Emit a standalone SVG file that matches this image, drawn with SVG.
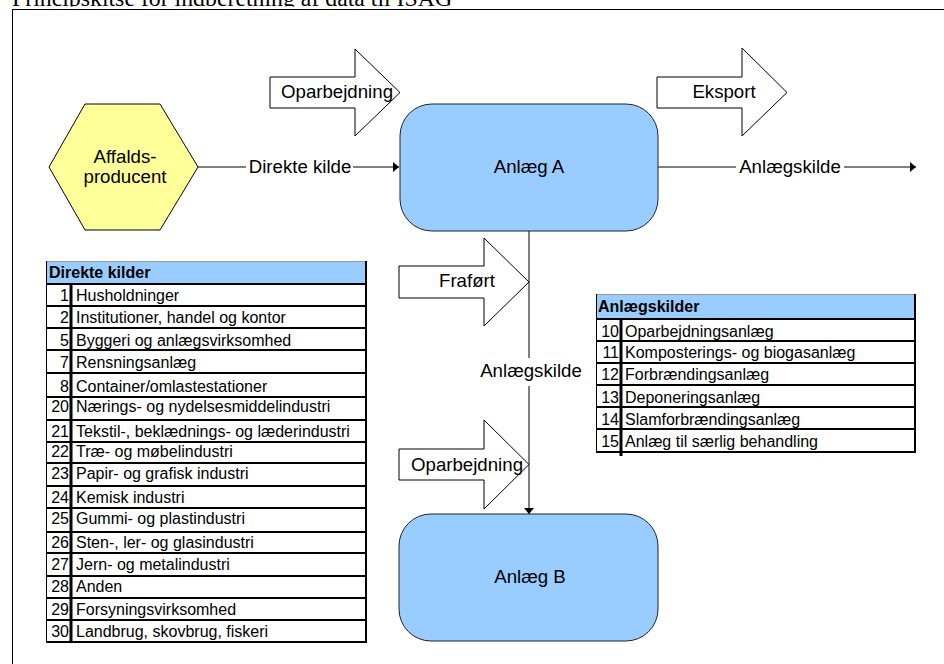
<svg xmlns="http://www.w3.org/2000/svg" width="944" height="664" viewBox="0 0 944 664">
<style>
.lbl{font-family:"Liberation Sans",Arial,sans-serif;font-size:18.67px;fill:#000}
.tt{font-family:"Liberation Sans",Arial,sans-serif;font-size:16px;fill:#000}
.th{font-family:"Liberation Sans",Arial,sans-serif;font-size:16px;font-weight:bold;fill:#000}
.num{text-anchor:end}
.mid{text-anchor:middle}
.blk{fill:#fff;stroke:#000;stroke-width:1}
.plant{fill:#99CCFF;stroke:#222;stroke-width:1}
.con{fill:none;stroke:#000;stroke-width:1}
.rl{stroke:#000;stroke-width:2}
.thin{stroke:#000;stroke-width:1}
.hdr{fill:#99CCFF}
</style>
<defs>
<marker id="ah" markerUnits="userSpaceOnUse" markerWidth="8" markerHeight="12" refX="6" refY="5" orient="auto">
<path d="M0,0 L6,5 L0,10 z" fill="#000"/>
</marker>
<clipPath id="tclip"><rect x="0" y="0" width="944" height="6.5"/></clipPath>
</defs>
<rect width="944" height="664" fill="#fff"/>
<text x="12" y="6" clip-path="url(#tclip)" font-family="'Liberation Serif','Times New Roman',serif" font-size="23.8">Principskitse for indberetning af data til ISAG</text>
<rect x="12.5" y="9.5" width="960" height="700" fill="none" stroke="#000" stroke-width="1"/>

<g id="connectors">
<path class="con" d="M198,167 H246 M353,167 H399" marker-end="url(#ah)"/>
<text class="lbl mid" x="300" y="173">Direkte kilde</text>
<path class="con" d="M658,167 H736 M844,167 H916" marker-end="url(#ah)"/>
<text class="lbl mid" x="790" y="173">Anlægskilde</text>
<path class="con" d="M529,231 V358 M529,386 V514" marker-end="url(#ah)" stroke="#333"/>
<text class="lbl mid" x="531" y="377">Anlægskilde</text>
</g>

<g id="node-affaldsproducent">
<polygon points="49,167 85,104 160,104 198,167 160,230 85,230" fill="#FFFF99" stroke="#000" stroke-width="1"/>
<text class="lbl mid" x="125" y="163">Affalds-</text>
<text class="lbl mid" x="125" y="183">producent</text>
</g>

<g id="node-anlaeg-a">
<rect class="plant" x="400" y="104" width="258" height="127" rx="32" ry="32"/>
<text class="lbl mid" x="529" y="173">Anlæg A</text>
</g>

<g id="node-anlaeg-b">
<rect class="plant" x="399" y="514" width="259" height="127" rx="32" ry="32"/>
<text class="lbl mid" x="530" y="583">Anlæg B</text>
</g>

<g id="arrow-oparbejdning-top">
<polygon class="blk" points="270,77 355,77 355,49 400,92.5 355,136 355,108 270,108"/>
<text class="lbl" x="281" y="98">Oparbejdning</text>
</g>

<g id="arrow-eksport">
<polygon class="blk" points="657,77 742,77 742,48 787,92.5 742,136 742,108 657,108"/>
<text class="lbl mid" x="724" y="98">Eksport</text>
</g>

<g id="arrow-frafoert">
<polygon class="blk" points="399,266 484,266 484,238 529,282 484,326 484,298 399,298"/>
<text class="lbl mid" x="467" y="287">Fraført</text>
</g>

<g id="arrow-oparbejdning-bottom">
<polygon class="blk" points="399,449 484,449 484,420 529,464.5 484,509 484,480 399,480"/>
<text class="lbl" x="411" y="471">Oparbejdning</text>
</g>

<g id="table-direkte-kilder">
<rect class="hdr" x="46" y="261" width="320" height="23"/>
<line x1="46" y1="261.5" x2="366" y2="261.5" stroke="#999" stroke-width="1"/>
<line class="thin" x1="46.5" y1="261" x2="46.5" y2="643"/>
<line class="rl" x1="366" y1="261" x2="366" y2="643"/>
<line x1="71" y1="284" x2="71" y2="643" stroke="#000" stroke-width="3"/>
<g class="rl">
<line x1="46" y1="284" x2="367" y2="284"/>
<line x1="46" y1="306" x2="367" y2="306"/>
<line x1="46" y1="328" x2="367" y2="328"/>
<line x1="46" y1="350" x2="367" y2="350"/>
<line x1="46" y1="373" x2="367" y2="373"/>
<line x1="46" y1="397" x2="367" y2="397"/>
<line x1="46" y1="420" x2="367" y2="420"/>
<line x1="46" y1="442" x2="367" y2="442"/>
<line x1="46" y1="463" x2="367" y2="463"/>
<line x1="46" y1="486" x2="367" y2="486"/>
<line x1="46" y1="508" x2="367" y2="508"/>
<line x1="46" y1="532" x2="367" y2="532"/>
<line x1="46" y1="553" x2="367" y2="553"/>
<line x1="46" y1="576" x2="367" y2="576"/>
<line x1="46" y1="598" x2="367" y2="598"/>
<line x1="46" y1="620" x2="367" y2="620"/>
<line x1="46" y1="642" x2="367" y2="642"/>
</g>
<text class="th" x="49" y="278">Direkte kilder</text>
<g class="tt">
<text class="num" x="69" y="301">1</text><text x="76" y="301">Husholdninger</text>
<text class="num" x="69" y="323">2</text><text x="76" y="323">Institutioner, handel og kontor</text>
<text class="num" x="69" y="346">5</text><text x="76" y="346">Byggeri og anlægsvirksomhed</text>
<text class="num" x="69" y="368">7</text><text x="76" y="368">Rensningsanlæg</text>
<text class="num" x="69" y="392">8</text><text x="76" y="392">Container/omlastestationer</text>
<text class="num" x="69" y="412">20</text><text x="76" y="412">Nærings- og nydelsesmiddelindustri</text>
<text class="num" x="69" y="437">21</text><text x="76" y="437">Tekstil-, beklædnings- og læderindustri</text>
<text class="num" x="69" y="457">22</text><text x="76" y="457">Træ- og møbelindustri</text>
<text class="num" x="69" y="479">23</text><text x="76" y="479">Papir- og grafisk industri</text>
<text class="num" x="69" y="503">24</text><text x="76" y="503">Kemisk industri</text>
<text class="num" x="69" y="524">25</text><text x="76" y="524">Gummi- og plastindustri</text>
<text class="num" x="69" y="548">26</text><text x="76" y="548">Sten-, ler- og glasindustri</text>
<text class="num" x="69" y="570">27</text><text x="76" y="570">Jern- og metalindustri</text>
<text class="num" x="69" y="592">28</text><text x="76" y="592">Anden</text>
<text class="num" x="69" y="615">29</text><text x="76" y="615">Forsyningsvirksomhed</text>
<text class="num" x="69" y="637">30</text><text x="76" y="637">Landbrug, skovbrug, fiskeri</text>
</g>
</g>

<g id="table-anlaegskilder">
<rect class="hdr" x="596" y="294" width="319" height="25"/>
<line x1="596" y1="294.5" x2="915" y2="294.5" stroke="#999" stroke-width="1"/>
<line class="thin" x1="596.5" y1="294" x2="596.5" y2="452"/>
<line class="rl" x1="915" y1="294" x2="915" y2="453"/>
<line x1="621" y1="319" x2="621" y2="456" stroke="#000" stroke-width="3"/>
<g class="rl">
<line x1="596" y1="319" x2="916" y2="319"/>
<line x1="596" y1="341" x2="916" y2="341"/>
<line x1="596" y1="363" x2="916" y2="363"/>
<line x1="596" y1="385" x2="916" y2="385"/>
<line x1="596" y1="407" x2="916" y2="407"/>
<line x1="596" y1="429" x2="916" y2="429"/>
<line x1="596" y1="452" x2="916" y2="452"/>
</g>
<text class="th" x="598" y="312">Anlægskilder</text>
<g class="tt">
<text class="num" x="619" y="337">10</text><text x="625" y="337">Oparbejdningsanlæg</text>
<text class="num" x="619" y="358">11</text><text x="625" y="358">Komposterings- og biogasanlæg</text>
<text class="num" x="619" y="380">12</text><text x="625" y="380">Forbrændingsanlæg</text>
<text class="num" x="619" y="403">13</text><text x="625" y="403">Deponeringsanlæg</text>
<text class="num" x="619" y="425">14</text><text x="625" y="425">Slamforbrændingsanlæg</text>
<text class="num" x="619" y="447">15</text><text x="625" y="447">Anlæg til særlig behandling</text>
</g>
</g>
</svg>
